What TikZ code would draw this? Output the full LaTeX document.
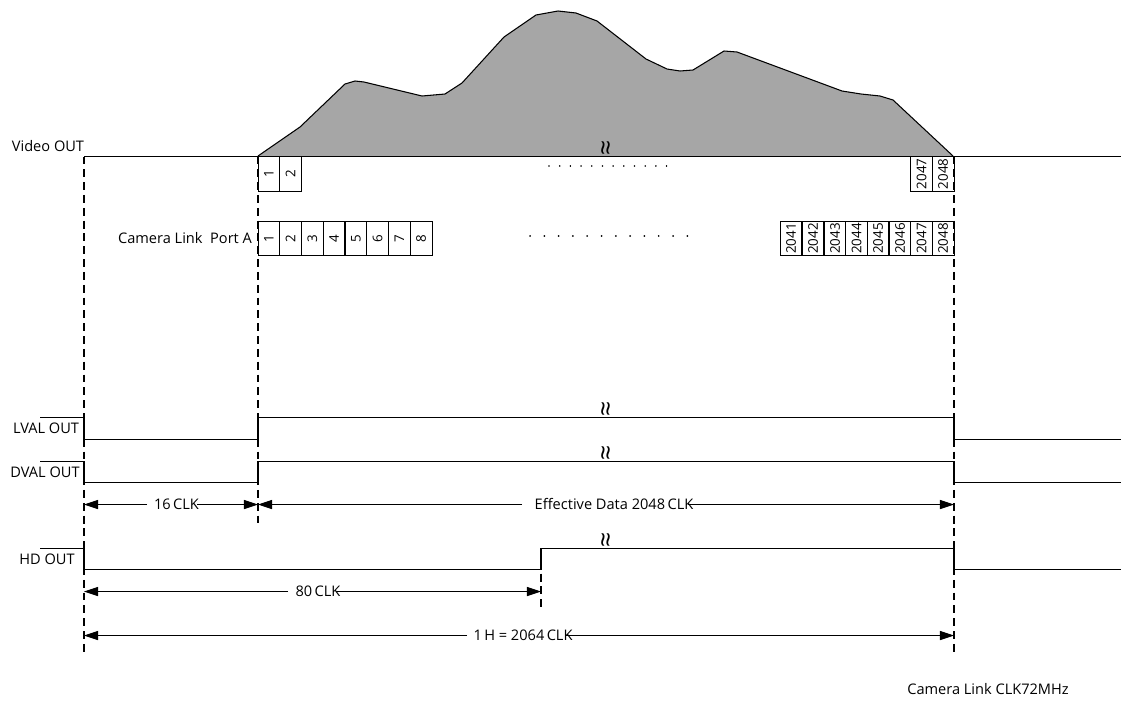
\documentclass[tikz,border=0pt]{standalone}
\usepackage{fontspec}
\setmainfont{Open Sans}
\usetikzlibrary{arrows.meta}

\begin{document}
\begin{tikzpicture}[x = 0.02cm, y = -0.02cm, thick]
\tikzstyle{lbl} = [font = \fontsize{8.3pt}{10pt}\selectfont, inner sep = 0pt]
\tikzstyle{cell} = [shape = rectangle, draw, line width = 0.5pt, minimum width = 12.33pt, font = \fontsize{7.6pt}{8pt}\selectfont, inner sep = 0pt]
\tikzstyle{upper} = [cell, minimum height = 19.8pt]
\tikzstyle{lower} = [cell, minimum height = 19.3pt]
\tikzstyle{sig} = [line width = 0.6pt]
\tikzstyle{guide} = [line width = 1.1pt, dash pattern = on 4.5pt off 2.8pt]
\tikzstyle{dim} = [line width = 0.5pt, -{Triangle[length = 8pt, width = 5.2pt]}]
\tikzstyle{brk} = [font = \fontsize{15pt}{15pt}\selectfont, rotate = 90, inner sep = 0pt]
\useasboundingbox (0, 0) rectangle (1121, 700);
% profile
\fill[black!35] (258, 156) -- (300, 127) -- (345, 84) -- (355, 81) -- (364, 82) -- (422, 96) -- (445, 94) -- (462, 83) -- (504, 37) -- (536, 15) -- (558, 11) -- (576, 13) -- (597, 21) -- (646, 59) -- (667, 69) -- (680, 71) -- (693, 70) -- (724, 51) -- (737, 52) -- (842, 91) -- (861, 94) -- (880, 96) -- (893, 100) -- (953, 156) -- cycle;
\draw[sig] (258, 156) -- (300, 127) -- (345, 84) -- (355, 81) -- (364, 82) -- (422, 96) -- (445, 94) -- (462, 83) -- (504, 37) -- (536, 15) -- (558, 11) -- (576, 13) -- (597, 21) -- (646, 59) -- (667, 69) -- (680, 71) -- (693, 70) -- (724, 51) -- (737, 52) -- (842, 91) -- (861, 94) -- (880, 96) -- (893, 100) -- (953, 156);
% guides
\coordinate (T-a) at (84, 156.5);
\coordinate (B-a) at (84, 655);
\coordinate (T-b) at (258, 156.5);
\coordinate (B-b) at (258, 523);
\coordinate (T-c) at (954, 156.5);
\coordinate (B-c) at (954, 655);
\coordinate (T-d) at (541, 548);
\coordinate (B-d) at (541, 609);
\draw[guide] (T-a) -- (B-a);
\draw[guide] (T-b) -- (B-b);
\draw[guide] (T-c) -- (B-c);
\draw[guide] (T-d) -- (B-d);
% video line
\coordinate (V-end) at (1121, 156.5);
\draw[sig] (T-a) -- (V-end);
\node[lbl] (L-video) at (48, 146) {Video OUT};
\node[brk] (W-video) at (608, 148) {≈};
% upper cells
\node[upper] (U-1) at (268.9, 174) {\rotatebox{90}{1}};
\node[upper] (U-2) at (290.6, 174) {\rotatebox{90}{2}};
\node[upper] (U-2047) at (921.7, 174) {\rotatebox{90}{2047}};
\node[upper] (U-2048) at (943.2, 174) {\rotatebox{90}{2048}};
\coordinate (D-u1) at (549, 166);
\coordinate (D-u2) at (668, 166);
\draw[line width = 0.9pt, line cap = round, dash pattern = on 0.01pt off 6.073pt] (D-u1) -- (D-u2);
% lower cells
\node[lbl] (L-port) at (185, 238) {Camera Link\ \ Port A};
\node[lower] (C-1) at (268.9, 238.5) {\rotatebox{90}{1}};
\node[lower] (C-2) at (290.6, 238.5) {\rotatebox{90}{2}};
\node[lower] (C-3) at (312.4, 238.5) {\rotatebox{90}{3}};
\node[lower] (C-4) at (334.1, 238.5) {\rotatebox{90}{4}};
\node[lower] (C-5) at (355.9, 238.5) {\rotatebox{90}{5}};
\node[lower] (C-6) at (377.6, 238.5) {\rotatebox{90}{6}};
\node[lower] (C-7) at (399.4, 238.5) {\rotatebox{90}{7}};
\node[lower] (C-8) at (421.1, 238.5) {\rotatebox{90}{8}};
\node[lower] (C-2041) at (791, 238.5) {\rotatebox{90}{2041}};
\node[lower] (C-2042) at (813, 238.5) {\rotatebox{90}{2042}};
\node[lower] (C-2043) at (835, 238.5) {\rotatebox{90}{2043}};
\node[lower] (C-2044) at (856.5, 238.5) {\rotatebox{90}{2044}};
\node[lower] (C-2045) at (878, 238.5) {\rotatebox{90}{2045}};
\node[lower] (C-2046) at (900, 238.5) {\rotatebox{90}{2046}};
\node[lower] (C-2047) at (921.7, 238.5) {\rotatebox{90}{2047}};
\node[lower] (C-2048) at (943.2, 238.5) {\rotatebox{90}{2048}};
\coordinate (D-c1) at (530, 236);
\coordinate (D-c2) at (689, 236);
\draw[line width = 1.1pt, line cap = round, dash pattern = on 0.01pt off 8.13pt] (D-c1) -- (D-c2);
% LVAL
\coordinate (LV-0) at (40, 417.5);
\coordinate (LV-1) at (84, 417.5);
\coordinate (LV-2) at (84, 439.5);
\coordinate (LV-3) at (258, 439.5);
\coordinate (LV-4) at (258, 417.5);
\coordinate (LV-5) at (954, 417.5);
\coordinate (LV-6) at (954, 439.5);
\coordinate (LV-7) at (1121, 439.5);
\draw[sig] (LV-0) -- (LV-1) -- (LV-2) -- (LV-3) -- (LV-4) -- (LV-5) -- (LV-6) -- (LV-7);
\node[lbl] (L-lval) at (46, 428) {LVAL OUT};
\node[brk] (W-lval) at (608, 409) {≈};
% DVAL
\coordinate (DV-0) at (40, 461.5);
\coordinate (DV-1) at (84, 461.5);
\coordinate (DV-2) at (84, 482.5);
\coordinate (DV-3) at (258, 482.5);
\coordinate (DV-4) at (258, 461.5);
\coordinate (DV-5) at (954, 461.5);
\coordinate (DV-6) at (954, 482.5);
\coordinate (DV-7) at (1121, 482.5);
\draw[sig] (DV-0) -- (DV-1) -- (DV-2) -- (DV-3) -- (DV-4) -- (DV-5) -- (DV-6) -- (DV-7);
\node[lbl] (L-dval) at (45, 472) {DVAL OUT};
\node[brk] (W-dval) at (608, 453) {≈};
% HD
\coordinate (H-0) at (40, 548.5);
\coordinate (H-1) at (84, 548.5);
\coordinate (H-2) at (84, 569.5);
\coordinate (H-3) at (541, 569.5);
\coordinate (H-4) at (541, 548.5);
\coordinate (H-5) at (954, 548.5);
\coordinate (H-6) at (954, 569.5);
\coordinate (H-7) at (1121, 569.5);
\draw[sig] (H-0) -- (H-1) -- (H-2) -- (H-3) -- (H-4) -- (H-5) -- (H-6) -- (H-7);
\node[lbl] (L-hd) at (47, 559) {HD OUT};
\node[brk] (W-hd) at (608, 540) {≈};
% spans
\coordinate (A-a) at (84, 504.5);
\coordinate (A-b) at (258, 504.5);
\coordinate (A-c) at (954, 504.5);
\coordinate (G-1) at (147, 504.5);
\coordinate (G-2) at (197, 504.5);
\coordinate (G-3) at (522, 504.5);
\coordinate (G-4) at (688, 504.5);
\node[lbl] (S-16) at (176.5, 504) {16\,CLK};
\node[lbl] (S-eff) at (614, 504) {Effective Data 2048\,CLK};
\draw[dim] (G-1) -- (A-a);
\draw[dim] (G-2) -- (A-b);
\draw[dim] (G-3) -- (A-b);
\draw[dim] (G-4) -- (A-c);
\coordinate (A-d) at (84, 591.5);
\coordinate (A-e) at (541, 591.5);
\coordinate (G-5) at (288, 591.5);
\coordinate (G-6) at (336, 591.5);
\node[lbl] (S-80) at (318, 591) {80\,CLK};
\draw[dim] (G-5) -- (A-d);
\draw[dim] (G-6) -- (A-e);
\coordinate (A-f) at (84, 635.5);
\coordinate (A-g) at (954, 635.5);
\coordinate (G-7) at (467, 635.5);
\coordinate (G-8) at (566, 635.5);
\node[lbl] (S-1h) at (523, 635) {1\,H = 2064\,CLK};
\draw[dim] (G-7) -- (A-f);
\draw[dim] (G-8) -- (A-g);
\node[lbl] (L-clk) at (988, 689) {Camera Link CLK72MHz};
\end{tikzpicture}
\end{document}
